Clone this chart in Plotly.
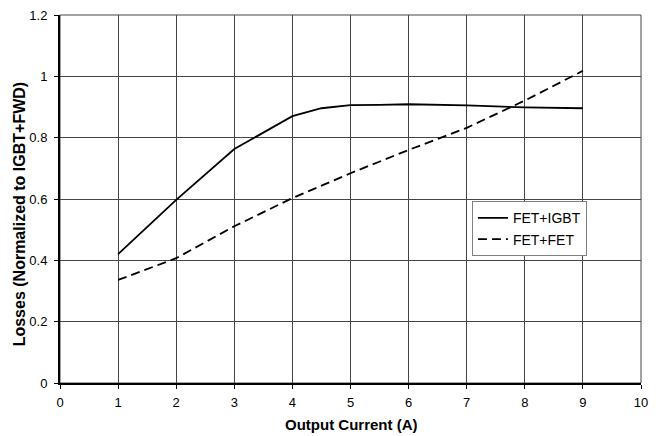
import plotly.graph_objects as go

x_igbt = [1, 2, 3, 4, 4.5, 5, 5.5, 6, 7, 8, 9]
y_igbt = [0.42, 0.597, 0.763, 0.870, 0.896, 0.906, 0.907, 0.909, 0.905, 0.899, 0.896]
x_fet = [1, 2, 3, 4, 5, 6, 7, 8, 9]
y_fet = [0.336, 0.407, 0.511, 0.603, 0.684, 0.760, 0.832, 0.921, 1.018]

fig = go.Figure()
fig.add_trace(go.Scatter(x=x_igbt, y=y_igbt, mode="lines", name="FET+IGBT",
                         line=dict(color="black", width=1.8)))
fig.add_trace(go.Scatter(x=x_fet, y=y_fet, mode="lines", name="FET+FET",
                         line=dict(color="black", width=1.8, dash="9px,5px")))

fig.update_layout(
    width=656, height=436,
    margin=dict(l=60, r=8, t=13, b=53),
    paper_bgcolor="white", plot_bgcolor="white",
    font=dict(family="Liberation Sans, Arial", size=13, color="black"),
    showlegend=True,
    legend=dict(x=0.709, y=0.419, xanchor="left", yanchor="middle",
                bordercolor="#808080", borderwidth=1, bgcolor="white",
                font=dict(size=14), tracegroupgap=0, itemwidth=30),
    xaxis=dict(range=[0, 10], dtick=1, tick0=0, showgrid=True, gridcolor="#444444",
               gridwidth=1, showline=True, linecolor="black", linewidth=2,
               ticks="outside", ticklen=4, tickcolor="black", zeroline=False,
               ticklabelstandoff=2),
    yaxis=dict(range=[0, 1.2], dtick=0.2, tick0=0, showgrid=True, gridcolor="#444444",
               gridwidth=1, showline=True, linecolor="black", linewidth=2,
               ticks="outside", ticklen=4, tickcolor="black", zeroline=False,
               ticklabelstandoff=4),
    annotations=[
        dict(text="<b>Output Current (A)</b>", xref="paper", yref="paper",
             x=0.5, y=-0.1135, xanchor="center", yanchor="middle",
             showarrow=False, font=dict(size=15)),
        dict(text="<b>Losses (Normalized to IGBT+FWD)</b>", xref="paper", yref="paper",
             x=-0.0697, y=0.457, xanchor="center", yanchor="middle", textangle=-90,
             showarrow=False, font=dict(size=16)),
    ],
)
fig.add_shape(type="rect", xref="paper", yref="paper", x0=0, y0=0, x1=1, y1=1,
              line=dict(color="#444444", width=1), layer="below")
fig.write_html("out.html")
